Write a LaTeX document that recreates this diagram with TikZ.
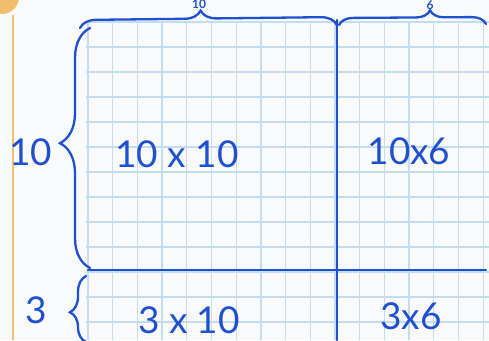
\documentclass[tikz,border=0pt]{standalone}
\usepackage{fontspec}
\setmainfont{Lato}
\usetikzlibrary{decorations.pathreplacing}
\definecolor{ink}{HTML}{1E50CF}
\definecolor{gridc}{HTML}{C4DCF0}
\definecolor{paper}{HTML}{F8FAFC}
\definecolor{margin}{HTML}{F0BE6E}
\tikzset{
  gridline/.style={draw=gridc, line width=1.3pt},
  inkline/.style={draw=ink, line width=2.4pt, line cap=round},
  inkbrace/.style={draw=ink, line width=2.3pt, line cap=round, decorate},
  hand/.style={text=ink, font=\fontsize{37}{37}\selectfont, inner sep=0pt},
  smallhand/.style={text=ink, font=\bfseries\fontsize{12}{12}\selectfont, inner sep=0pt}
}
\begin{document}
\begin{tikzpicture}[x=1pt,y=-1pt]
\useasboundingbox (0,0) rectangle (489,340);
\clip (0,0) rectangle (489,340);
\fill[paper] (0,0) rectangle (489,340);
% orange margin and corner blob
\fill[margin] (2,-3) circle (17);
\draw[margin, line width=2.5pt] (13,15) -- (13,340);
% grid
\foreach \k in {0,...,16} \draw[gridline] ({88+24.7*\k},21) -- ({88+24.7*\k},340);
\foreach \k in {0,...,13} \draw[gridline] (86,{22+25*\k}) -- (489,{22+25*\k});
% main lines
\coordinate (vt) at (337,20);
\coordinate (vb) at (337,340);
\coordinate (hl) at (88,270);
\coordinate (hr) at (486,270);
\draw[inkline] (vt) -- (vb);
\draw[inkline] (hl) -- (hr);
% braces
\coordinate (b1a) at (90,268);
\coordinate (b1b) at (90,28);
\draw[inkbrace, decoration={brace, amplitude=30pt, aspect=0.52}] (b1a) -- (b1b);
\coordinate (b2a) at (86,342);
\coordinate (b2b) at (86,276);
\draw[inkbrace, decoration={brace, amplitude=16pt, aspect=0.45}] (b2a) -- (b2b);
\coordinate (b3a) at (80,28);
\coordinate (b3b) at (337,25);
\draw[inkbrace, decoration={brace, amplitude=16pt, aspect=0.47}] (b3a) -- (b3b);
\coordinate (b4a) at (339,25);
\coordinate (b4b) at (486,24);
\draw[inkbrace, decoration={brace, amplitude=14pt, aspect=0.62}] (b4a) -- (b4b);
% labels
\node[hand] (l10) at (31,152) {10};
\node[hand] (l3) at (36,310) {3};
\node[hand] (a) at (177,154) {10 x 10};
\node[hand] (b) at (409,151) {10x6};
\node[hand] (c) at (189,320) {3 x 10};
\node[hand] (d) at (411,316) {3x6};
\node[smallhand] (t10) at (199,4.5) {10};
\node[smallhand] (t6) at (430,5) {6};
\end{tikzpicture}
\end{document}
